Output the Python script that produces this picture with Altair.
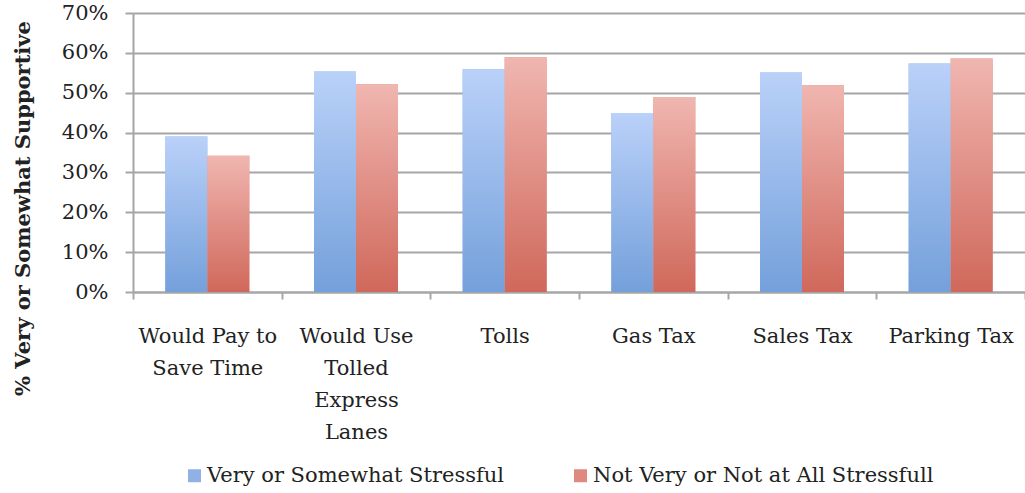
import altair as alt
import pandas as pd

categories = ["Would Pay to Save Time", "Would Use Tolled Express Lanes", "Tolls",
              "Gas Tax", "Sales Tax", "Parking Tax"]
wrapped = {
    "Would Pay to Save Time": ["Would Pay to", "Save Time"],
    "Would Use Tolled Express Lanes": ["Would Use", "Tolled", "Express", "Lanes"],
}
series = ["Very or Somewhat Stressful", "Not Very or Not at All Stressfull"]
stressful = [0.39, 0.553, 0.559, 0.449, 0.551, 0.573]
not_stressful = [0.342, 0.521, 0.589, 0.489, 0.519, 0.586]
y_ticks = [0, 0.1, 0.2, 0.3, 0.4, 0.5, 0.6, 0.7]

rows = []
for c, a, b in zip(categories, stressful, not_stressful):
    rows.append({"category": c, "series": series[0], "value": a})
    rows.append({"category": c, "series": series[1], "value": b})
df = pd.DataFrame(rows)

FONT = "DejaVu Serif"
GRID = "#a6a6a6"
TEXT = "#222222"

expr_parts = []
for k, v in wrapped.items():
    expr_parts.append(f"datum.label == '{k}' ? {v!r}")
label_expr = " : ".join(expr_parts) + " : datum.label"

W, H = 892, 279

x_enc = alt.X(
    "category:N", sort=categories, title=None,
    scale=alt.Scale(paddingInner=0, paddingOuter=0),
    axis=alt.Axis(
        tickBand="extent", labelAngle=0, labelExpr=label_expr,
        labelFont=FONT, labelFontSize=21, labelColor=TEXT, labelLineHeight=32,
        labelPadding=26, labelBaseline="top",
        domainColor=GRID, domainWidth=2, tickColor=GRID, tickWidth=2, tickSize=7,
        grid=False, labelOverlap=False, labelBound=False,
    ),
)
xo_enc = alt.XOffset("series:N", sort=series,
                     scale=alt.Scale(domain=series, paddingOuter=0.77, paddingInner=0))
y_enc = alt.Y(
    "value:Q",
    scale=alt.Scale(domain=[0, 0.7], nice=False),
    axis=alt.Axis(
        values=y_ticks, format=".0%", title="% Very or Somewhat Supportive",
        titleFont=FONT, titleFontSize=21, titleFontWeight="bold", titleColor=TEXT,
        titleAngle=-90, titleX=-110, titleY=195, titleAlign="center", titleBaseline="middle",
        labelFont=FONT, labelFontSize=21, labelColor=TEXT, labelPadding=17,
        domainColor=GRID, domainWidth=2, tickColor=GRID, tickWidth=2, tickSize=8,
        gridColor=GRID, gridWidth=2,
    ),
)

base = alt.Chart(df).encode(x=x_enc, xOffset=xo_enc, y=y_enc)

legend_bars = base.mark_bar().encode(
    color=alt.Color(
        "series:N", sort=series,
        scale=alt.Scale(domain=series, range=["#8fb1e6", "#df8a80"]),
        legend=alt.Legend(
            title=None, orient="none", direction="horizontal",
            legendX=51, legendY=452,
            symbolType="square", symbolSize=169, symbolStrokeWidth=0,
            labelFont=FONT, labelFontSize=21, labelColor=TEXT, labelOffset=2,
            columnPadding=66, padding=0, labelLimit=500,
        ),
    )
)

blue_grad = alt.Gradient(
    gradient="linear",
    stops=[alt.GradientStop(color="#bad1f9", offset=0),
           alt.GradientStop(color="#74a0db", offset=1)],
    x1=0, x2=0, y1=0, y2=1,
)
red_grad = alt.Gradient(
    gradient="linear",
    stops=[alt.GradientStop(color="#f0b6b0", offset=0),
           alt.GradientStop(color="#d0685b", offset=1)],
    x1=0, x2=0, y1=0, y2=1,
)

blue_bars = base.mark_bar(color=blue_grad).transform_filter(
    alt.datum.series == series[0])
red_bars = base.mark_bar(color=red_grad).transform_filter(
    alt.datum.series == series[1])

chart = alt.layer(legend_bars, blue_bars, red_bars).properties(
    width=W, height=H,
    autosize=alt.AutoSizeParams(type="none"),
    padding={"left": 133, "top": 13, "right": 0, "bottom": 493 - 13 - H},
).configure_view(stroke=None).configure(background="white")

chart.save("out.html", embed_options={"renderer": "svg", "actions": False})
